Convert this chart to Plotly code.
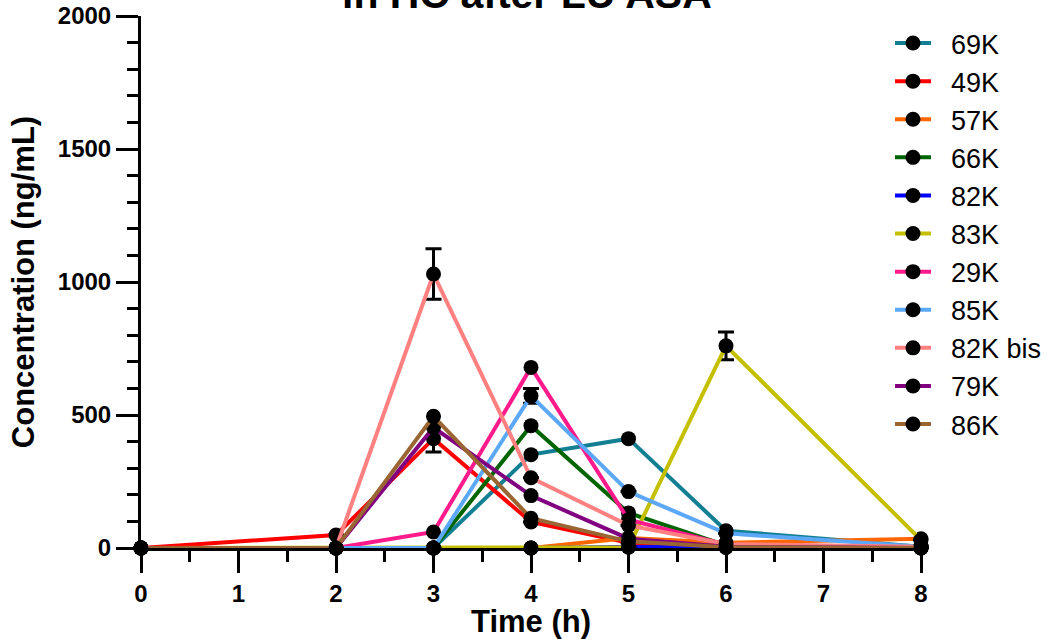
import plotly.graph_objects as go

times = [0, 2, 3, 4, 5, 6, 8]

series_names = ["69K", "49K", "57K", "66K", "82K", "83K", "29K", "85K", "82K bis", "79K", "86K"]
s69K = [0, 0, 0, 351, 411, 65, 5]
s49K = [0, 49, 411, 98, 20, 5, 0]
s57K = [0, 0, 0, 0, 38, 20, 35]
s66K = [0, 0, 0, 460, 132, 10, 2]
s82K = [0, 0, 0, 0, 4, 2, 0]
s83K = [0, 0, 0, 0, 3, 760, 30]
s29K = [0, 0, 60, 679, 106, 12, 3]
s85K = [0, 0, 0, 572, 212, 55, 5]
s82Kbis = [0, 0, 1030, 264, 85, 15, 5]
s79K = [0, 0, 453, 197, 35, 5, 0]
s86K = [0, 0, 495, 112, 25, 3, 0]

# error bars (SD) where visible
e49K = [None, None, 50, None, None, None, None]
e83K = [None, None, None, None, None, 52, None]
e85K = [None, None, None, 28, None, None, None]
e82Kbis = [None, None, 95, None, None, None, None]

values = [s69K, s49K, s57K, s66K, s82K, s83K, s29K, s85K, s82Kbis, s79K, s86K]
errors = [None, e49K, None, None, None, e83K, None, e85K, e82Kbis, None, None]
colors = ["#137f93", "#ff0000", "#ff6600", "#006400", "#0000ff", "#c4c000",
          "#ff1a8c", "#5ca8f8", "#ff8080", "#800080", "#996633"]

FONT = "Liberation Sans, Arial, sans-serif"

fig = go.Figure()
for name, vals, err, col in zip(series_names, values, errors, colors):
    kw = {}
    if err is not None:
        kw["error_y"] = dict(type="data", array=err, visible=True, color="black",
                             thickness=3, width=8)
    fig.add_trace(go.Scatter(
        x=times, y=vals, name="\u00a0\u00a0" + name, mode="lines+markers",
        line=dict(color=col, width=4),
        marker=dict(color="black", size=15, line=dict(width=0)),
        cliponaxis=False, legendgroup=name, **kw))

fig.add_annotation(text="<b>in HC after LU ASA</b>", xref="paper", yref="paper",
                   x=0.4955, y=0.995, xanchor="center", yanchor="bottom",
                   showarrow=False, font=dict(family=FONT, size=41, color="black"))

axis_common = dict(showline=True, linecolor="black", linewidth=3, ticks="outside",
                   tickwidth=3, tickcolor="black", ticklen=22, showgrid=False,
                   zeroline=False,
                   tickfont=dict(family=FONT, size=24, color="black", weight="bold"))

fig.update_xaxes(range=[0, 8], tick0=0, dtick=1,
                 minor=dict(dtick=0.5, ticks="outside", ticklen=11, tickwidth=3,
                            tickcolor="black"),
                 title=dict(text="<b>Time (h)</b>", font=dict(family=FONT, size=31, color="black"),
                            standoff=2),
                 **axis_common)
fig.update_yaxes(range=[0, 2000], tick0=0, dtick=500,
                 minor=dict(dtick=100, ticks="outside", ticklen=11, tickwidth=3,
                            tickcolor="black"),
                 title=dict(text="<b>Concentration (ng/mL)</b>",
                            font=dict(family=FONT, size=31, color="black"), standoff=14),
                 **axis_common)

fig.update_layout(
    width=1047, height=639,
    margin=dict(l=141, r=126, t=16, b=91, autoexpand=False),
    plot_bgcolor="white", paper_bgcolor="white",
    showlegend=True,
    legend=dict(xref="container", yref="container", x=890 / 1047, y=1 - 19 / 639,
                xanchor="left", yanchor="top", font=dict(family=FONT, size=27, color="black"),
                tracegroupgap=0, itemwidth=36, bgcolor="rgba(0,0,0,0)", maxheight=620),
)

fig.write_html("out.html")
